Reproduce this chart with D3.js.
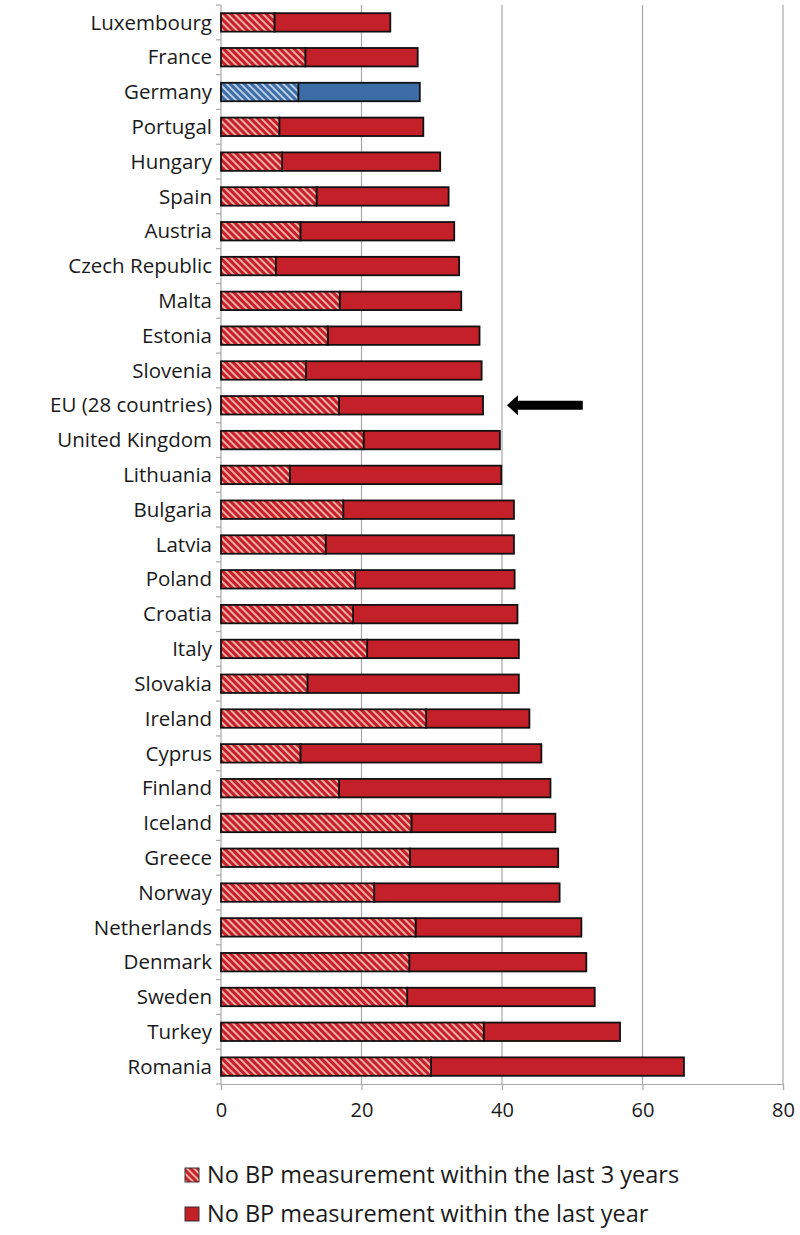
<!DOCTYPE html>
<html>
<head>
    <meta charset="utf-8">
    <title>No BP measurement by country</title>
    <script src="https://d3js.org/d3.v7.min.js"></script>
    <style>
        body { margin: 0; background: #fff; }
        text { font-family: "Open Sans", sans-serif; fill: #1a1a1a; }
    </style>
</head>
<body>
    <svg width="800" height="1235"></svg>

    <script>
        var countries = ["Luxembourg", "France", "Germany", "Portugal", "Hungary", "Spain", "Austria",
            "Czech Republic", "Malta", "Estonia", "Slovenia", "EU (28 countries)", "United Kingdom",
            "Lithuania", "Bulgaria", "Latvia", "Poland", "Croatia", "Italy", "Slovakia", "Ireland",
            "Cyprus", "Finland", "Iceland", "Greece", "Norway", "Netherlands", "Denmark", "Sweden",
            "Turkey", "Romania"];

        // % with no BP measurement within the last 3 years (hatched part)
        var noBp3Years = [7.6, 12.0, 11.0, 8.3, 8.7, 13.6, 11.3, 7.8, 16.9, 15.2, 12.1, 16.8, 20.3,
            9.8, 17.4, 14.9, 19.1, 18.8, 20.8, 12.3, 29.2, 11.3, 16.8, 27.1, 26.9, 21.8, 27.7, 26.8,
            26.5, 37.4, 29.9];

        // % with no BP measurement within the last year (whole bar)
        var noBpLastYear = [24.1, 28.0, 28.3, 28.8, 31.2, 32.4, 33.2, 33.9, 34.2, 36.8, 37.1, 37.3,
            39.7, 39.9, 41.7, 41.7, 41.8, 42.2, 42.4, 42.4, 43.9, 45.6, 46.9, 47.6, 48.0, 48.2, 51.3,
            52.0, 53.2, 56.8, 65.9];

        var xTicks = [0, 20, 40, 60, 80];
        var legendLabels = ["No BP measurement within the last 3 years", "No BP measurement within the last year"];
        var highlighted = "Germany";
        var arrowFor = "EU (28 countries)";

        var red = "#c4202a", redLight = "#f3aaa2";
        var blue = "#3d6da6", blueLight = "#b8cce6";

        var svg = d3.select("svg");

        var x = d3.scaleLinear().domain([0, 80]).range([221, 783]);
        var y = d3.scaleBand().domain(countries).range([5, 1084])
            .paddingInner(0.47).paddingOuter(0.235);

        // hatch patterns
        var defs = svg.append("defs");
        function hatch(id, bg, fg) {
            var p = defs.append("pattern")
                .attr("id", id)
                .attr("patternUnits", "userSpaceOnUse")
                .attr("width", 5).attr("height", 5)
                .attr("patternTransform", "rotate(-45)");
            p.append("rect").attr("width", 5).attr("height", 5).attr("fill", bg);
            p.append("rect").attr("width", 2).attr("height", 5).attr("fill", fg);
        }
        hatch("hatchRed", red, redLight);
        hatch("hatchBlue", blue, blueLight);

        // gridlines
        svg.append("g")
            .selectAll("line")
            .data(xTicks.slice(1))
            .enter().append("line")
            .attr("x1", function (d) { return x(d); })
            .attr("x2", function (d) { return x(d); })
            .attr("y1", 5).attr("y2", 1084)
            .attr("stroke", "#a8a8a8").attr("stroke-width", 1.2);

        // y axis line + ticks at band edges
        svg.append("line")
            .attr("x1", x(0)).attr("x2", x(0)).attr("y1", 5).attr("y2", 1084)
            .attr("stroke", "#a8a8a8").attr("stroke-width", 1.2);
        var step = y.step();
        var edges = countries.map(function (c) { return y(c) - step * y.paddingInner() / 2; });
        edges.push(1084);
        svg.append("g").selectAll("line")
            .data(edges)
            .enter().append("line")
            .attr("x1", x(0) - 5).attr("x2", x(0))
            .attr("y1", function (d) { return d; }).attr("y2", function (d) { return d; })
            .attr("stroke", "#a8a8a8").attr("stroke-width", 1.2);

        // x axis
        var xAxis = svg.append("g")
            .attr("transform", "translate(0,1084)")
            .call(d3.axisBottom(x).tickValues(xTicks).tickSize(6).tickPadding(13));
        xAxis.select(".domain").attr("stroke", "#a8a8a8").attr("stroke-width", 1.2);
        xAxis.selectAll(".tick line").attr("stroke", "#a8a8a8").attr("stroke-width", 1.2);
        xAxis.selectAll("text")
            .style("font-family", "Open Sans, sans-serif")
            .style("font-size", "20px")
            .attr("fill", "#1a1a1a");

        var rows = countries.map(function (c, i) {
            return { country: c, y3: noBp3Years[i], y1: noBpLastYear[i] };
        });

        var bars = svg.append("g").selectAll("g")
            .data(rows)
            .enter().append("g");

        // solid part: last year
        bars.append("rect")
            .attr("x", function (d) { return x(d.y3); })
            .attr("y", function (d) { return y(d.country); })
            .attr("width", function (d) { return x(d.y1) - x(d.y3); })
            .attr("height", y.bandwidth())
            .attr("fill", function (d) { return d.country == highlighted ? blue : red; })
            .attr("stroke", "#111").attr("stroke-width", 1.8);

        // hatched part: last 3 years
        bars.append("rect")
            .attr("x", x(0))
            .attr("y", function (d) { return y(d.country); })
            .attr("width", function (d) { return x(d.y3) - x(0); })
            .attr("height", y.bandwidth())
            .attr("fill", function (d) { return d.country == highlighted ? "url(#hatchBlue)" : "url(#hatchRed)"; })
            .attr("stroke", "#111").attr("stroke-width", 1.8);

        // country labels
        svg.append("g").selectAll("text")
            .data(countries)
            .enter().append("text")
            .attr("x", 212)
            .attr("y", function (d) { return y(d) + y.bandwidth() / 2; })
            .attr("dy", "0.35em")
            .attr("text-anchor", "end")
            .style("font-size", "20.5px")
            .text(function (d) { return d; });

        // arrow pointing at the EU bar
        var ay = y(arrowFor) + y.bandwidth() / 2;
        var tipX = x(40.7), tailX = x(51.5);
        svg.append("path")
            .attr("d", "M" + tipX + "," + ay +
                "L" + (tipX + 11) + "," + (ay - 10) +
                "L" + (tipX + 11) + "," + (ay - 4.5) +
                "L" + tailX + "," + (ay - 4.5) +
                "L" + tailX + "," + (ay + 4.5) +
                "L" + (tipX + 11) + "," + (ay + 4.5) +
                "L" + (tipX + 11) + "," + (ay + 10) + "Z")
            .attr("fill", "#000");

        // legend
        var legend = svg.append("g").selectAll("g")
            .data(legendLabels)
            .enter().append("g")
            .attr("transform", function (d, i) { return "translate(185," + (1175 + i * 39) + ")"; });
        legend.append("rect")
            .attr("x", 0).attr("y", -7).attr("width", 14).attr("height", 14)
            .attr("fill", function (d, i) { return i == 0 ? "url(#hatchRed)" : red; })
            .attr("stroke", "#333").attr("stroke-width", 1);
        legend.append("text")
            .attr("x", 22)
            .attr("dy", "0.35em")
            .style("font-size", "23.5px")
            .text(function (d) { return d; });
    </script>
</body>
</html>
